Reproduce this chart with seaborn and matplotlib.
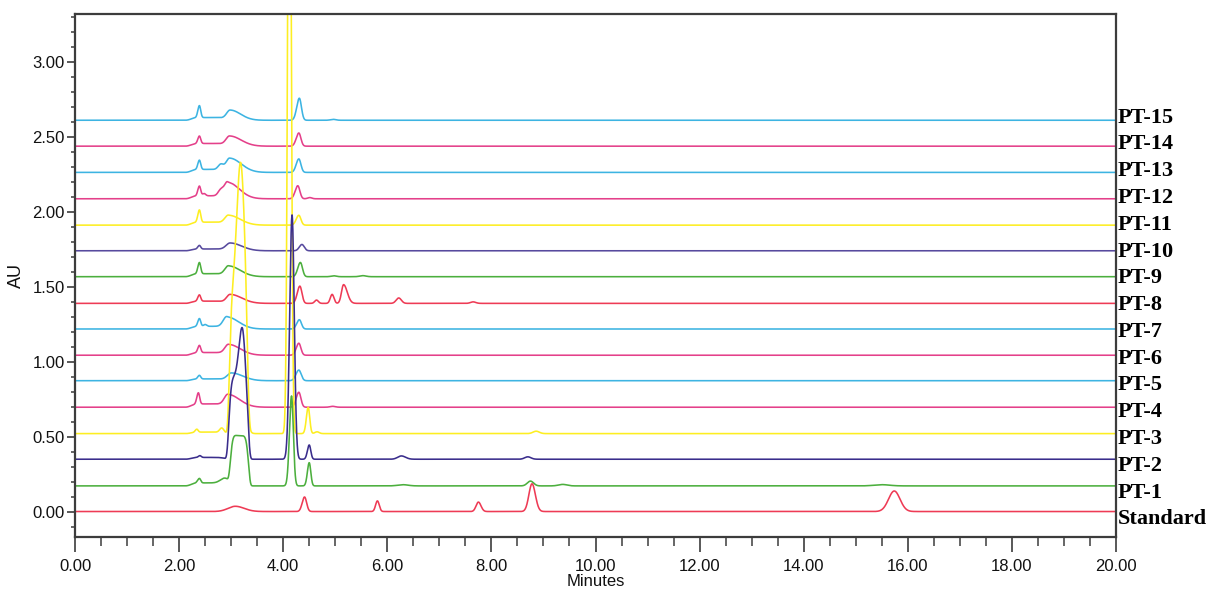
import numpy as np
import pandas as pd
import matplotlib
matplotlib.use("Agg")
import matplotlib.pyplot as plt
import matplotlib.transforms as mtransforms
from matplotlib.ticker import MultipleLocator, FormatStrFormatter
import seaborn as sns

# ---------------- data ----------------
samples = ["Standard", "PT-1", "PT-2", "PT-3", "PT-4", "PT-5", "PT-6", "PT-7",
           "PT-8", "PT-9", "PT-10", "PT-11", "PT-12", "PT-13", "PT-14", "PT-15"]
# vertical offset (AU) of each trace baseline
baselines = [0.000, 0.171, 0.349, 0.520, 0.696, 0.873, 1.043, 1.218,
             1.389, 1.567, 1.740, 1.911, 2.087, 2.263, 2.438, 2.611]

# peak tables: (retention time min, height AU, left width, right width, shape)
standard_peaks = [(3.08, 0.035, 0.14, 0.17, 2), (4.41, 0.097, 0.045, 0.04, 2),
                  (5.81, 0.071, 0.035, 0.035, 2), (7.75, 0.063, 0.045, 0.05, 2),
                  (8.78, 0.185, 0.06, 0.065, 2), (15.74, 0.137, 0.11, 0.11, 2)]
pt1_peaks = [(2.55, 0.02, 0.30, 0.30, 6), (2.39, 0.03, 0.035, 0.025, 2),
             (2.90, 0.045, 0.09, 0.08, 2), (3.16, 0.335, 0.16, 0.16, 6),
             (4.16, 0.60, 0.04, 0.035, 2), (4.50, 0.155, 0.035, 0.03, 2),
             (6.30, 0.008, 0.10, 0.10, 2), (8.75, 0.032, 0.06, 0.06, 2),
             (9.37, 0.010, 0.08, 0.08, 2), (15.50, 0.008, 0.15, 0.15, 2)]
pt2_peaks = [(2.55, 0.012, 0.30, 0.30, 6), (2.40, 0.012, 0.03, 0.025, 2),
             (3.14, 0.55, 0.17, 0.17, 6), (3.21, 0.33, 0.06, 0.05, 2),
             (4.17, 1.63, 0.045, 0.042, 2), (4.50, 0.095, 0.035, 0.03, 2),
             (6.27, 0.022, 0.07, 0.08, 2), (8.70, 0.016, 0.06, 0.06, 2)]
pt3_peaks = [(2.55, 0.01, 0.30, 0.30, 6), (2.34, 0.02, 0.03, 0.025, 2),
             (2.82, 0.03, 0.04, 0.04, 2), (3.14, 0.95, 0.16, 0.16, 6),
             (3.18, 0.86, 0.07, 0.07, 2), (4.12, 5.0, 0.033, 0.033, 2),
             (4.48, 0.175, 0.035, 0.03, 2), (4.65, 0.012, 0.04, 0.04, 2),
             (8.86, 0.016, 0.06, 0.06, 2)]
pt4_peaks = [(2.55, 0.022, 0.30, 0.30, 6), (2.37, 0.075, 0.03, 0.025, 2),
             (2.94, 0.085, 0.07, 0.22, 2), (4.30, 0.10, 0.05, 0.04, 2),
             (4.95, 0.006, 0.05, 0.05, 2)]
pt5_peaks = [(2.55, 0.012, 0.30, 0.30, 6), (2.39, 0.024, 0.03, 0.025, 2),
             (3.00, 0.052, 0.08, 0.22, 2), (4.30, 0.071, 0.055, 0.045, 2)]
pt6_peaks = [(2.55, 0.018, 0.30, 0.30, 6), (2.39, 0.048, 0.03, 0.025, 2),
             (2.95, 0.072, 0.07, 0.22, 2), (4.30, 0.08, 0.05, 0.04, 2)]
pt7_peaks = [(2.55, 0.018, 0.30, 0.30, 6), (2.39, 0.052, 0.03, 0.025, 2),
             (2.50, 0.012, 0.03, 0.03, 2), (2.92, 0.08, 0.07, 0.22, 2),
             (4.31, 0.062, 0.05, 0.04, 2)]
pt8_peaks = [(2.55, 0.015, 0.30, 0.30, 6), (2.39, 0.042, 0.03, 0.025, 2),
             (2.98, 0.06, 0.07, 0.22, 2), (4.32, 0.115, 0.05, 0.04, 2),
             (4.64, 0.022, 0.035, 0.035, 2), (4.94, 0.06, 0.035, 0.035, 2),
             (5.16, 0.125, 0.04, 0.07, 2), (6.22, 0.036, 0.05, 0.05, 2),
             (7.65, 0.010, 0.05, 0.05, 2)]
pt9_peaks = [(2.55, 0.02, 0.30, 0.30, 6), (2.39, 0.075, 0.03, 0.025, 2),
             (2.95, 0.072, 0.07, 0.22, 2), (4.33, 0.095, 0.05, 0.04, 2),
             (4.97, 0.006, 0.05, 0.05, 2), (5.53, 0.007, 0.06, 0.06, 2)]
pt10_peaks = [(2.55, 0.012, 0.30, 0.30, 6), (2.39, 0.024, 0.03, 0.025, 2),
              (2.98, 0.052, 0.08, 0.22, 2), (4.36, 0.042, 0.05, 0.045, 2)]
pt11_peaks = [(2.55, 0.02, 0.30, 0.30, 6), (2.39, 0.082, 0.03, 0.025, 2),
              (2.95, 0.066, 0.07, 0.22, 2), (4.30, 0.066, 0.05, 0.04, 2)]
pt12_peaks = [(2.55, 0.02, 0.30, 0.30, 6), (2.39, 0.065, 0.03, 0.025, 2),
              (2.48, 0.015, 0.03, 0.03, 2), (2.80, 0.04, 0.05, 0.05, 2),
              (2.93, 0.11, 0.06, 0.22, 2), (4.28, 0.087, 0.05, 0.04, 2),
              (4.51, 0.008, 0.04, 0.04, 2)]
pt13_peaks = [(2.55, 0.02, 0.30, 0.30, 6), (2.39, 0.062, 0.03, 0.025, 2),
              (2.80, 0.035, 0.05, 0.05, 2), (2.97, 0.095, 0.07, 0.22, 2),
              (4.30, 0.09, 0.05, 0.04, 2)]
pt14_peaks = [(2.55, 0.018, 0.30, 0.30, 6), (2.39, 0.05, 0.03, 0.025, 2),
              (2.97, 0.068, 0.07, 0.22, 2), (4.30, 0.088, 0.05, 0.04, 2)]
pt15_peaks = [(2.55, 0.018, 0.30, 0.30, 6), (2.39, 0.08, 0.03, 0.025, 2),
              (2.98, 0.068, 0.07, 0.20, 2), (4.31, 0.147, 0.05, 0.04, 2),
              (4.96, 0.006, 0.05, 0.05, 2)]

peak_tables = [standard_peaks, pt1_peaks, pt2_peaks, pt3_peaks, pt4_peaks,
               pt5_peaks, pt6_peaks, pt7_peaks, pt8_peaks, pt9_peaks,
               pt10_peaks, pt11_peaks, pt12_peaks, pt13_peaks, pt14_peaks,
               pt15_peaks]

# ---------------- styles ----------------
RED, GREEN, NAVY, YELLOW = "#EE3B55", "#4CAF3E", "#3A2D8C", "#FDEE21"
PINK, BLUE, PURPLE = "#E4408A", "#3DB4E2", "#574A9E"
trace_colors = [RED, GREEN, NAVY, YELLOW, PINK, BLUE, PINK, BLUE,
                RED, GREEN, PURPLE, YELLOW, PINK, BLUE, PINK, BLUE]

# ---------------- build traces ----------------
t = np.linspace(0.0, 20.0, 8001)


def trace(base, peaks):
    y = np.full_like(t, base)
    for rt, h, sl, sr, p in peaks:
        s = np.where(t < rt, sl, sr)
        y = y + h * np.exp(-0.5 * np.abs((t - rt) / s) ** p)
    return y


frames = []
for name, base, peaks in zip(samples, baselines, peak_tables):
    frames.append(pd.DataFrame({"minutes": t, "au": trace(base, peaks),
                                "sample": name}))
df = pd.concat(frames, ignore_index=True)

# ---------------- plot ----------------
sns.set_style("white")
plt.rcParams["font.family"] = ["Liberation Sans", "DejaVu Sans"]

fig = plt.figure(figsize=(12.15, 5.90), dpi=100)
ax = fig.add_axes([75 / 1215, 53 / 590, 1041 / 1215, 523 / 590])

palette = dict(zip(samples, trace_colors))
sns.lineplot(data=df, x="minutes", y="au", hue="sample",
             hue_order=samples[::-1], palette=palette, estimator=None,
             sort=False, legend=False, linewidth=1.15, ax=ax)

ax.set_xlim(0, 20)
ax.set_ylim(-0.17, 3.32)
ax.xaxis.set_major_locator(MultipleLocator(2))
ax.xaxis.set_minor_locator(MultipleLocator(0.5))
ax.yaxis.set_major_locator(MultipleLocator(0.5))
ax.yaxis.set_minor_locator(MultipleLocator(0.1))
ax.xaxis.set_major_formatter(FormatStrFormatter("%.2f"))
ax.yaxis.set_major_formatter(FormatStrFormatter("%.2f"))

spine_col = "#3c3c3c"
for sp in ax.spines.values():
    sp.set_visible(True)
    sp.set_color(spine_col)
    sp.set_linewidth(1.6)

ax.tick_params(axis="x", which="major", direction="out", length=11, width=1.2,
               color=spine_col, pad=5, labelsize=12, labelcolor="#111111")
ax.tick_params(axis="x", which="minor", direction="out", length=6.5, width=1.1,
               color=spine_col)
ax.tick_params(axis="y", which="major", direction="out", length=5.5, width=1.2,
               color=spine_col, pad=2, labelsize=12, labelcolor="#111111")
ax.tick_params(axis="y", which="minor", direction="out", length=3, width=1.1,
               color=spine_col)
ax.tick_params(bottom=True, left=True, which="both")

ax.set_xlabel("Minutes", fontsize=12, labelpad=0, color="#111111")
ax.set_ylabel("AU", fontsize=13, labelpad=5, color="#111111")

# sample labels outside the right edge of the plot
trans = mtransforms.blended_transform_factory(ax.transAxes, ax.transData)
label_pos = np.linspace(-0.052, 2.628, len(samples))
for name, yp in zip(samples, label_pos):
    ax.text(1.002, yp, name, transform=trans, ha="left", va="center",
            fontsize=16, fontweight="bold", color="black",
            family=["Liberation Serif", "DejaVu Serif"], clip_on=False)

fig.savefig("out.png", dpi=100, facecolor="white")
